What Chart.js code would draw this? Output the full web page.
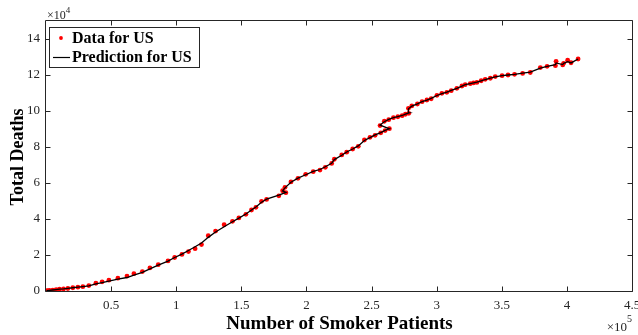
<!DOCTYPE html>
<html>
<head>
<meta charset="utf-8">
<script src="https://cdn.jsdelivr.net/npm/chart.js@4/dist/chart.umd.min.js"></script>
<style>
  html, body { margin: 0; padding: 0; background: #ffffff; }
  #wrap { width: 638px; height: 335px; }
</style>
</head>
<body>
<div id="wrap"><canvas id="c" width="638" height="335"></canvas></div>
<script>
// Number of smoker patients (x) for each observation
const patients = [
  300, 1200, 2700, 5200, 7800, 10400, 13500, 16800, 20600, 24500,
  28300, 32900, 38300, 43100, 48300, 55200, 62200, 67500, 74000, 79800,
  86200, 93700, 98800, 104400, 109400, 114500, 119400, 124600, 130200, 136800,
  143200, 148100, 153500, 157800, 161200, 165500, 169400, 178800, 184200, 181700,
  183500, 188100, 193500, 199400, 205200, 210400, 214500, 219400, 221400, 227100,
  230900, 235500, 239800, 244500, 248800, 252700, 257100, 260400, 263700, 256500,
  259800, 263200, 266800, 270200, 273500, 276000, 278600, 278300, 280900, 285200,
  288800, 292500, 295800, 300200, 304000, 307800, 311200, 315500, 319400, 321900,
  325800, 328300, 330900, 334200, 337300, 341200, 345000, 350200, 354800, 359800,
  366000, 371900, 379600, 384800, 391200, 391700, 396800, 397500, 400600, 403200,
  408600
];

// Observed total deaths
const deathsObserved = [
  100, 200, 300, 500, 700, 1000, 1200, 1400, 1800, 2100,
  2400, 3000, 4300, 5100, 6000, 7100, 8300, 9600, 10800, 12800,
  14600, 16700, 18600, 20300, 21900, 23500, 25800, 30700, 33300, 36800,
  38700, 40600, 42600, 45000, 46500, 49800, 50900, 52900, 54600, 55700,
  57600, 60600, 62600, 64800, 66300, 67200, 68700, 70900, 73200, 75600,
  77100, 78900, 80400, 83900, 85400, 86500, 87900, 89100, 90200, 91900,
  94300, 95200, 96300, 96800, 97400, 98200, 98700, 101500, 102800, 103900,
  105200, 106100, 106800, 108700, 109800, 110400, 111300, 112600, 113900, 114600,
  115200, 115600, 115900, 116800, 117600, 118200, 119100, 119600, 120000, 120400,
  120900, 121400, 124100, 124800, 125200, 127600, 125600, 126500, 128200, 126800,
  128900
];

// Model prediction of total deaths
const deathsPredicted = [
  0, 200, 350, 550, 800, 1000, 1200, 1500, 1800, 2100,
  2400, 2800, 3900, 4700, 5500, 6600, 7500, 8800, 10400, 12300,
  14400, 16600, 18600, 20500, 22500, 24600, 26700, 29800, 32800, 35700,
  38500, 40500, 42800, 45000, 46700, 49300, 51000, 53300, 54800, 55600,
  57300, 60400, 62700, 64600, 66400, 67500, 69000, 71000, 73000, 75400,
  77200, 78900, 80600, 83600, 85200, 86700, 88000, 89200, 90100, 92200,
  94000, 95300, 96300, 96900, 97500, 98300, 98900, 101200, 102700, 104000,
  105200, 106100, 107000, 108600, 109700, 110500, 111400, 112600, 113800, 114600,
  115200, 115600, 116000, 116800, 117500, 118300, 119000, 119600, 120000, 120400,
  121000, 121600, 123800, 124800, 125700, 126700, 125800, 126500, 127400, 126700,
  128900
];

// Axis ticks and their labels (values shown in units of 1e5 and 1e4)
const xTickValues = [50000, 100000, 150000, 200000, 250000, 300000, 350000, 400000, 450000];
const xTickLabels = ['0.5', '1', '1.5', '2', '2.5', '3', '3.5', '4', '4.5'];
const yTickValues = [0, 20000, 40000, 60000, 80000, 100000, 120000, 140000];
const yTickLabels = ['0', '2', '4', '6', '8', '10', '12', '14'];

const AXIS_COLOR = '#262626';
const SERIF = '"Liberation Serif", "Times New Roman", serif';

const observedPoints = patients.map((x, i) => ({ x: x, y: deathsObserved[i] }));
const predictedPoints = patients.map((x, i) => ({ x: x, y: deathsPredicted[i] }));

// Box with inward tick marks, exponent labels, axis titles and boxed legend
const framePlugin = {
  id: 'frame',
  afterDatasetsDraw(chart) {
    const ctx = chart.ctx;
    const a = chart.chartArea;
    const sx = chart.scales.x, sy = chart.scales.y;
    const L = Math.round(a.left) - 0.5, R = Math.round(a.right) + 0.5;
    const T = Math.round(a.top) - 0.5, B = Math.round(a.bottom) + 0.5;
    ctx.save();
    ctx.strokeStyle = AXIS_COLOR;
    ctx.lineWidth = 1;
    ctx.beginPath();
    ctx.rect(L, T, R - L, B - T);
    const tl = 5;
    xTickValues.forEach(v => {
      const p = Math.round(sx.getPixelForValue(v)) + 0.5;
      ctx.moveTo(p, B); ctx.lineTo(p, B - tl);
      ctx.moveTo(p, T); ctx.lineTo(p, T + tl);
    });
    yTickValues.forEach(v => {
      const p = Math.round(sy.getPixelForValue(v)) + 0.5;
      ctx.moveTo(L, p); ctx.lineTo(L + tl, p);
      ctx.moveTo(R, p); ctx.lineTo(R - tl, p);
    });
    ctx.stroke();
    ctx.restore();
  },
  afterDraw(chart) {
    const ctx = chart.ctx;
    const a = chart.chartArea;
    ctx.save();

    // exponent multipliers
    ctx.fillStyle = AXIS_COLOR;
    ctx.textBaseline = 'alphabetic';
    ctx.textAlign = 'left';
    ctx.font = '12px ' + SERIF;
    ctx.fillText('\u00d710', a.left + 1, 19);
    let w = ctx.measureText('\u00d710').width;
    ctx.font = '9px ' + SERIF;
    ctx.fillText('4', a.left + 1 + w, 13);

    ctx.font = '13px ' + SERIF;
    w = ctx.measureText('\u00d710').width;
    const ex = a.right - 5 - w;
    ctx.fillText('\u00d710', ex, 331);
    ctx.font = '10px ' + SERIF;
    ctx.fillText('5', ex + w, 322);

    // axis titles
    ctx.fillStyle = '#000000';
    ctx.font = 'bold 19px ' + SERIF;
    ctx.textAlign = 'center';
    ctx.textBaseline = 'middle';
    ctx.fillText('Number of Smoker Patients', (a.left + a.right) / 2 + 0.5, 324);
    ctx.save();
    ctx.translate(18, 157);
    ctx.rotate(-Math.PI / 2);
    ctx.font = 'bold 18px ' + SERIF;
    ctx.fillText('Total Deaths', 0, 0);
    ctx.restore();

    // legend
    const lx = 49.5, ly = 27.5, lw = 150, lh = 40;
    ctx.fillStyle = '#ffffff';
    ctx.fillRect(lx, ly, lw, lh);
    ctx.strokeStyle = AXIS_COLOR;
    ctx.lineWidth = 1;
    ctx.strokeRect(lx, ly, lw, lh);

    const ds = chart.data.datasets;
    const dataSet = ds.find(d => d.id === 'observed');
    const predSet = ds.find(d => d.id === 'predicted');
    ctx.fillStyle = dataSet.backgroundColor;
    ctx.beginPath();
    ctx.arc(61, 38, 1.9, 0, Math.PI * 2);
    ctx.fill();
    ctx.strokeStyle = predSet.borderColor;
    ctx.lineWidth = 1.2;
    ctx.beginPath();
    ctx.moveTo(53, 57.5); ctx.lineTo(70, 57.5);
    ctx.stroke();

    ctx.fillStyle = '#000000';
    ctx.font = 'bold 16px ' + SERIF;
    ctx.textAlign = 'left';
    ctx.textBaseline = 'middle';
    ctx.fillText(dataSet.label, 72, 38.5);
    ctx.fillText(predSet.label, 72, 58);
    ctx.restore();
  }
};

new Chart(document.getElementById('c'), {
  type: 'scatter',
  data: {
    datasets: [
      {
        id: 'observed',
        label: 'Data for US',
        data: observedPoints,
        showLine: false,
        pointRadius: 2.4,
        pointBorderWidth: 0,
        backgroundColor: '#ff0000',
        borderColor: '#ff0000',
        order: 1
      },
      {
        id: 'predicted',
        label: 'Prediction for US',
        data: predictedPoints,
        showLine: true,
        pointRadius: 0,
        borderColor: '#000000',
        borderWidth: 1.3,
        backgroundColor: '#000000',
        tension: 0,
        order: 0
      }
    ]
  },
  options: {
    responsive: false,
    animation: false,
    devicePixelRatio: 1,
    events: [],
    layout: { padding: { left: 0, right: 6, top: 21, bottom: 0 } },
    plugins: { legend: { display: false }, tooltip: { enabled: false } },
    scales: {
      x: {
        type: 'linear',
        position: 'bottom',
        min: 0,
        max: 450000,
        grid: { display: false, drawTicks: false },
        border: { display: false },
        afterBuildTicks: s => { s.ticks = xTickValues.map(v => ({ value: v })); },
        afterFit: s => { s.height = 44; s.paddingLeft = 0; s.paddingRight = 0; },
        ticks: {
          maxRotation: 0,
          autoSkip: false,
          padding: 7,
          color: AXIS_COLOR,
          font: { family: SERIF, size: 13 },
          callback: v => xTickLabels[xTickValues.indexOf(v)]
        }
      },
      y: {
        type: 'linear',
        min: 0,
        max: 150000,
        grid: { display: false, drawTicks: false },
        border: { display: false },
        afterBuildTicks: s => { s.ticks = yTickValues.map(v => ({ value: v })); },
        afterFit: s => { s.width = 46; s.paddingTop = 0; s.paddingBottom = 0; },
        ticks: {
          autoSkip: false,
          padding: 6,
          color: AXIS_COLOR,
          font: { family: SERIF, size: 13 },
          callback: v => yTickLabels[yTickValues.indexOf(v)]
        }
      }
    }
  },
  plugins: [framePlugin]
});
</script>
</body>
</html>
